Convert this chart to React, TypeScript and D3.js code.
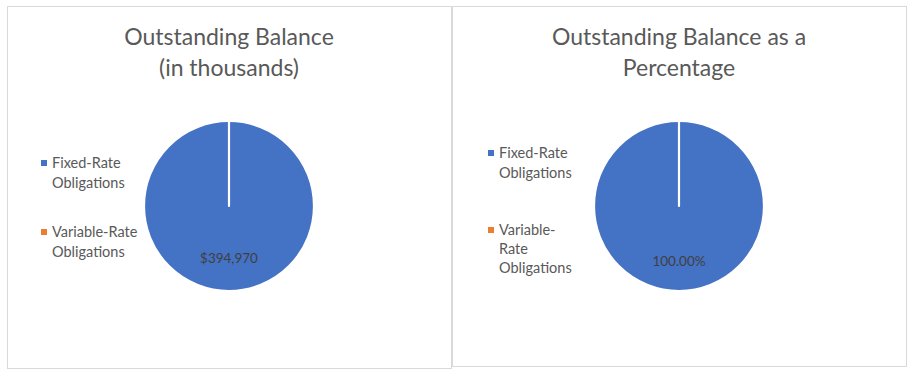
import React from "react";
import * as d3 from "d3";

const categories = ["Fixed-Rate Obligations", "Variable-Rate Obligations"];
const balanceValues = [394970, 0];
const percentValues = [100, 0];
const balanceLabels = ["$394,970", ""];
const percentLabels = ["100.00%", ""];
const leftTitle = ["Outstanding Balance", "(in thousands)"];
const rightTitle = ["Outstanding Balance as a", "Percentage"];
const leftLegend = [["Fixed-Rate", "Obligations"], ["Variable-Rate", "Obligations"]];
const rightLegend = [["Fixed-Rate", "Obligations"], ["Variable-", "Rate", "Obligations"]];

const colors = ["#4472C4", "#ED7D31"];
const FONT = "Lato, 'Open Sans', sans-serif";

type PanelProps = {
  x: number; y: number; w: number; h: number;
  title: string[]; values: number[]; labels: string[];
  legend: string[][]; legendX: number; legendYs: number[][];
  cx: number; cy: number; r: number; labelY: number;
};

function Panel(p: PanelProps) {
  const pie = d3.pie<number>().sort(null).value((d) => d)(p.values);
  const arc = d3.arc<d3.PieArcDatum<number>>().innerRadius(0).outerRadius(p.r);
  const color = d3.scaleOrdinal<string, string>().domain(categories).range(colors);
  const tcx = p.x + p.w / 2;
  return (
    <g>
      <rect x={p.x + 0.5} y={p.y + 0.5} width={p.w} height={p.h} fill="#fff" stroke="#d9d9d9" strokeWidth={1} />
      {p.title.map((t, i) => (
        <text key={i} x={tcx} y={45 + i * 31} textAnchor="middle" fontFamily={FONT} fontSize={23} fill="#595959">{t}</text>
      ))}
      <g transform={`translate(${p.cx},${p.cy})`}>
        {pie.map((d, i) => (
          <path key={i} d={arc(d) || ""} fill={color(categories[i])} stroke="#fff" strokeWidth={2.2} strokeLinejoin="round" strokeLinecap="round" />
        ))}
      </g>
      {pie.map((d, i) => p.labels[i] ? (
        <text key={"l" + i} x={p.cx} y={p.labelY} textAnchor="middle" fontFamily={FONT} fontSize={13.5} fill="#404040">{p.labels[i]}</text>
      ) : null)}
      {p.legend.map((lines, i) => (
        <g key={"lg" + i}>
          <rect x={p.legendX} y={p.legendYs[i][0] - 8} width={6} height={6} fill={color(categories[i])} />
          {lines.map((ln, j) => (
            <text key={j} x={p.legendX + 11} y={p.legendYs[i][j]} fontFamily={FONT} fontSize={14.5} fill="#595959">{ln}</text>
          ))}
        </g>
      ))}
    </g>
  );
}

export default function App() {
  return (
    <svg width={916} height={374} style={{ position: "absolute", left: 0, top: 0, background: "#fff" }}>
      <rect width={916} height={374} fill="#fff" />
      <Panel x={7} y={6} w={444} h={362} title={leftTitle} values={balanceValues} labels={balanceLabels}
        legend={leftLegend} legendX={41} legendYs={[[168, 188], [237, 257]]}
        cx={229} cy={206} r={85} labelY={263} />
      <Panel x={452} y={6} w={454} h={360} title={rightTitle} values={percentValues} labels={percentLabels}
        legend={rightLegend} legendX={488} legendYs={[[158, 178], [235, 254, 273]]}
        cx={679} cy={206} r={85} labelY={266} />
    </svg>
  );
}
